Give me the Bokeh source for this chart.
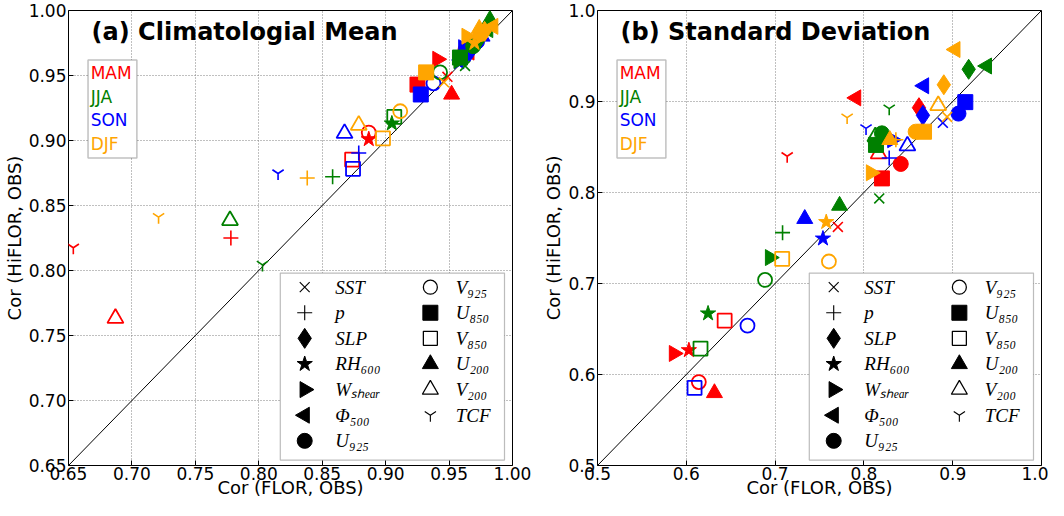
import math
from bokeh.plotting import figure
from bokeh.models import (Range1d, FixedTicker, PrintfTickFormatter, Slope, BoxAnnotation,
                          Label, ColumnDataSource)
from bokeh.layouts import row
from bokeh.embed import file_html
from bokeh.resources import INLINE

# ---------------- data ----------------
variables = ["SST", "p", "SLP", "RH600", "Wshear", "Phi500", "U925",
             "V925", "U850", "V850", "U200", "V200", "TCF"]
legend_labels = ["SST", "p", "SLP", "RH\u2086\u2080\u2080", "W\u209b\u2095\u2091\u2090\u1d63", "\u03a6\u2085\u2080\u2080",
                 "U\u2089\u2082\u2085", "V\u2089\u2082\u2085", "U\u2088\u2085\u2080", "V\u2088\u2085\u2080",
                 "U\u2082\u2080\u2080", "V\u2082\u2080\u2080", "TCF"]
seasons = ["MAM", "JJA", "SON", "DJF"]
season_colors = ["#ff0000", "#008000", "#0000ff", "#ffa500"]
draw_order = ["MAM", "SON", "JJA", "DJF"]

# (a) Climatological mean: x = Cor(FLOR, OBS), y = Cor(HiFLOR, OBS); order follows `variables`
a_MAM_x = [0.9487, 0.778, 0.962, 0.8867, 0.9408, 0.966, 0.963, 0.8867, 0.9251, 0.8736, 0.952, 0.687, 0.6538]
a_MAM_y = [0.949, 0.825, 0.965, 0.901, 0.9625, 0.968, 0.970, 0.9061, 0.943, 0.8853, 0.9354, 0.7633, 0.8175]
a_JJA_x = [0.9626, 0.8582, 0.975, 0.9049, 0.9575, 0.9808, 0.969, 0.9429, 0.9586, 0.9068, 0.9822, 0.7773, 0.8029]
a_JJA_y = [0.9574, 0.8721, 0.980, 0.9131, 0.9615, 0.9853, 0.9726, 0.9524, 0.9638, 0.9182, 0.9929, 0.8385, 0.8043]
a_SON_x = [0.960, 0.8788, 0.966, 0.958, 0.9612, 0.970, 0.972, 0.9377, 0.9277, 0.8743, 0.976, 0.8676, 0.8152]
a_SON_y = [0.962, 0.8904, 0.968, 0.960, 0.9714, 0.977, 0.976, 0.944, 0.9354, 0.8782, 0.980, 0.9055, 0.8746]
a_DJF_x = [0.946, 0.8382, 0.978, 0.970, 0.9638, 0.9848, 0.975, 0.9115, 0.9319, 0.8979, 0.9738, 0.8788, 0.721]
a_DJF_y = [0.9448, 0.8711, 0.984, 0.975, 0.9802, 0.9878, 0.982, 0.9225, 0.9524, 0.9017, 0.986, 0.9118, 0.841]

# (b) Standard deviation
b_MAM_x = [0.7707, 0.865, 0.862, 0.6029, 0.5861, 0.7912, 0.8415, 0.6141, 0.8203, 0.6432, 0.6317, 0.8166, 0.7136]
b_MAM_y = [0.7621, 0.868, 0.8932, 0.6267, 0.6231, 0.904, 0.8314, 0.5917, 0.8155, 0.6592, 0.5797, 0.8426, 0.8398]
b_JJA_x = [0.8173, 0.7084, 0.918, 0.6245, 0.6943, 0.9385, 0.8203, 0.6887, 0.8136, 0.616, 0.7726, 0.8129, 0.8285]
b_JJA_y = [0.7935, 0.7559, 0.9354, 0.6671, 0.7285, 0.939, 0.865, 0.7039, 0.8523, 0.6285, 0.7856, 0.8614, 0.8921]
b_SON_x = [0.8889, 0.8285, 0.8665, 0.7539, 0.832, 0.8677, 0.9065, 0.6689, 0.9142, 0.6093, 0.7334, 0.849, 0.8024]
b_SON_y = [0.8766, 0.8379, 0.8848, 0.7494, 0.858, 0.9173, 0.8867, 0.6537, 0.8993, 0.5852, 0.7711, 0.8513, 0.8704]
b_DJF_x = [0.8937, 0.836, 0.89, 0.7576, 0.808, 0.903, 0.8583, 0.7606, 0.8677, 0.708, 0.8292, 0.8837, 0.7811]
b_DJF_y = [0.8831, 0.858, 0.9184, 0.7675, 0.8217, 0.9571, 0.8668, 0.7242, 0.8668, 0.7271, 0.8578, 0.8957, 0.8823]

a_ticks = [0.65, 0.70, 0.75, 0.80, 0.85, 0.90, 0.95, 1.00]
b_ticks = [0.5, 0.6, 0.7, 0.8, 0.9, 1.0]
a_title = "(a) Climatologial Mean"
b_title = "(b) Standard Deviation"
x_label = "Cor (FLOR, OBS)"
y_label = "Cor (HiFLOR, OBS)"

# ---------------- styles ----------------
# marker, kind (filled / open / line), angle, size
styles = {
    "SST": ("x", "line", 0.0, 14),
    "p": ("cross", "line", 0.0, 15),
    "SLP": ("diamond", "filled", 0.0, 20),
    "RH600": ("star", "filled", 0.0, 16),
    "Wshear": ("triangle", "filled", -math.pi / 2, 16),
    "Phi500": ("triangle", "filled", math.pi / 2, 16),
    "U925": ("circle", "filled", 0.0, 15),
    "V925": ("circle", "open", 0.0, 14),
    "U850": ("square", "filled", 0.0, 15),
    "V850": ("square", "open", 0.0, 14),
    "U200": ("triangle", "filled", 0.0, 16),
    "V200": ("triangle", "open", 0.0, 16),
    "TCF": ("y", "line", 0.0, 13),
}

FONT = "DejaVu Sans"

# frame-fraction layout of the in-plot legend (left->right, top->bottom)
LEG_BOX = (0.477, 0.982, 0.577, 0.988)
LEG_MARK_X = (0.532, 0.815)
LEG_TEXT_X = (0.601, 0.872)
LEG_ROW0, LEG_ROW_STEP = 0.608, 0.0563


def style_kwargs(var, color, thin=1.0):
    marker, kind, angle, size = styles[var]
    kw = dict(marker=marker, size=size, angle=angle)
    if kind == "filled":
        kw.update(fill_color=color, line_color=color, line_width=1)
    elif kind == "open":
        kw.update(fill_color=None, line_color=color, line_width=1.8 * thin)
    else:
        kw.update(line_color=color, line_width=1.6 * thin)
    return kw


def make_panel(xs_by_season, ys_by_season, ticks, fmt, title, width, bl, br):
    lo, hi = ticks[0], ticks[-1]
    p = figure(width=width, height=500, output_backend="svg", toolbar_location=None,
               x_range=Range1d(lo, hi), y_range=Range1d(lo, hi),
               min_border_left=bl, min_border_right=br, min_border_top=10, min_border_bottom=0)
    p.outline_line_color = "black"
    p.outline_line_width = 1
    p.background_fill_color = "white"
    for ax in (p.xaxis[0], p.yaxis[0]):
        ax.ticker = FixedTicker(ticks=ticks)
        ax.formatter = PrintfTickFormatter(format=fmt)
        ax.axis_line_color = None
        ax.major_tick_in = 5
        ax.major_tick_out = 0
        ax.major_tick_line_color = "black"
        ax.minor_tick_line_color = None
        ax.major_label_text_font = FONT
        ax.major_label_text_font_size = "17px"
        ax.major_label_text_color = "black"
        ax.axis_label_text_font = FONT
        ax.axis_label_text_font_size = "18px"
        ax.axis_label_text_font_style = "normal"
        ax.axis_label_text_color = "black"
        ax.major_label_standoff = 2
        ax.axis_label_standoff = 1
    p.xaxis.major_label_standoff = 1
    p.xaxis.axis_label_standoff = -6
    p.xaxis.axis_label = x_label
    p.yaxis.axis_label = y_label
    for g in (p.xgrid[0], p.ygrid[0]):
        g.ticker = FixedTicker(ticks=ticks)
        g.grid_line_color = "#808080"
        g.grid_line_dash = "1 2"
        g.grid_line_width = 1

    p.add_layout(Slope(gradient=1, y_intercept=0, line_color="black", line_width=1, level="underlay"))

    # data markers: season by season, one renderer per variable
    for s in draw_order:
        color = season_colors[seasons.index(s)]
        xs, ys = xs_by_season[s], ys_by_season[s]
        for i, var in enumerate(variables):
            src = ColumnDataSource(dict(x=[xs[i]], y=[ys[i]]))
            p.scatter("x", "y", source=src, **style_kwargs(var, color))

    span = hi - lo

    def fx(f):
        return lo + f * span

    def fy(f):
        return hi - f * span

    # ----- in-plot legend of variable symbols -----
    l, r, t, b = LEG_BOX
    p.add_layout(BoxAnnotation(left=fx(l), right=fx(r), top=fy(t), bottom=fy(b),
                               fill_color="white", fill_alpha=1, line_color="#222222",
                               line_width=1.2, level="annotation"))
    for k, (var, lbl) in enumerate(zip(variables, legend_labels)):
        col = 0 if k < 7 else 1
        rr = k if k < 7 else k - 7
        yy = fy(LEG_ROW0 + LEG_ROW_STEP * rr)
        rend = p.scatter(x=[fx(LEG_MARK_X[col])], y=[yy], **style_kwargs(var, "black", thin=0.7))
        rend.level = "overlay"
        p.add_layout(Label(x=fx(LEG_TEXT_X[col]), y=yy, text=lbl, text_font="Liberation Serif",
                           text_font_style="italic", text_font_size="19px", text_color="black",
                           text_baseline="middle", text_align="left", level="overlay"))

    # panel title
    p.add_layout(Label(x=fx(0.052), y=fy(0.047), text=title, text_font=FONT,
                       text_font_size="24px", text_font_style="bold", text_color="black",
                       text_baseline="middle", text_align="left"))
    # season box
    p.add_layout(BoxAnnotation(left=fx(0.044), right=fx(0.154), top=fy(0.109), bottom=fy(0.324),
                               fill_color="white", fill_alpha=1, line_color="#333333",
                               line_width=1.5, level="annotation"))
    for k, (s, c) in enumerate(zip(seasons, season_colors)):
        p.add_layout(Label(x=fx(0.05), y=fy(0.1375 + 0.0517 * k), text=s, text_font=FONT,
                           text_font_size="17px", text_color=c, text_baseline="middle",
                           text_align="left", level="overlay"))
    return p


pa = make_panel({"MAM": a_MAM_x, "JJA": a_JJA_x, "SON": a_SON_x, "DJF": a_DJF_x},
                {"MAM": a_MAM_y, "JJA": a_JJA_y, "SON": a_SON_y, "DJF": a_DJF_y},
                a_ticks, "%.2f", a_title, 540, 66, 28)
pb = make_panel({"MAM": b_MAM_x, "JJA": b_JJA_x, "SON": b_SON_x, "DJF": b_DJF_x},
                {"MAM": b_MAM_y, "JJA": b_JJA_y, "SON": b_SON_y, "DJF": b_DJF_y},
                b_ticks, "%.1f", b_title, 508, 55, 7)

layout = row(pa, pb)
open("out.html", "w").write(file_html(layout, INLINE))
